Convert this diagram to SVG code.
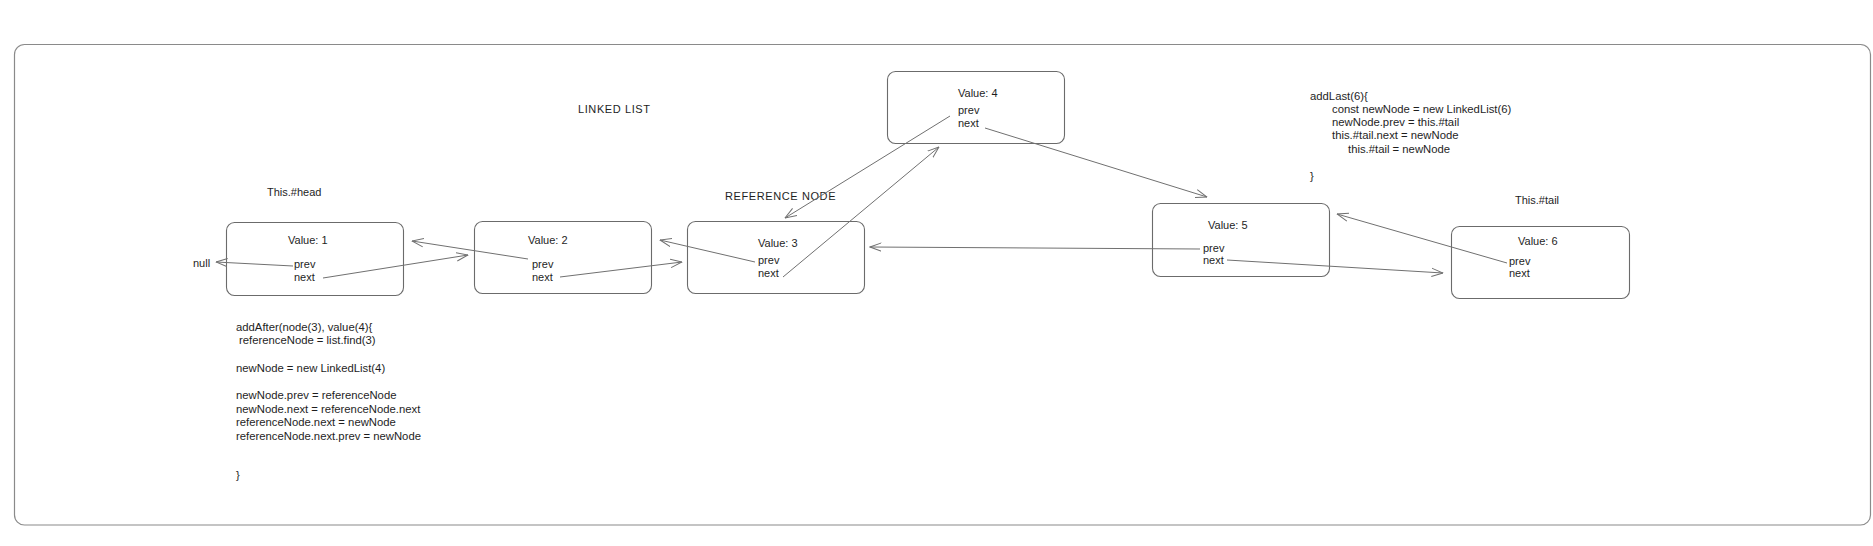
<svg xmlns="http://www.w3.org/2000/svg" width="1873" height="546" viewBox="0 0 1873 546">
<style>
.box{fill:none;stroke:#6b6b6b;stroke-width:1.1}
.frame{fill:none;stroke:#8a8a8a;stroke-width:1.2}
.t{font-family:"Liberation Sans",Arial,sans-serif;font-size:11px;fill:#1e1e1e}
.k{font-size:11.3px}
.u{letter-spacing:0.6px}
.c{fill:none;stroke:#707070;stroke-width:1;marker-end:url(#ah)}
</style>
<defs>
<marker id="ah" viewBox="0 0 12 10" refX="11.5" refY="5" markerWidth="12" markerHeight="10" orient="auto" markerUnits="userSpaceOnUse">
<path d="M0,0.8 L11.5,5 L0,9.2" fill="none" stroke="#707070" stroke-width="1"/>
</marker>
</defs>
<rect width="1873" height="546" fill="#ffffff"/>
<rect class="frame" x="14.5" y="44.5" width="1856" height="480.5" rx="10"/>

<g id="labels">
<text class="t u" x="578" y="113">LINKED LIST</text>
<text class="t" x="267" y="196">This.#head</text>
<text class="t u" x="725" y="200">REFERENCE NODE</text>
<text class="t" x="1515" y="204">This.#tail</text>
<text class="t" x="193" y="267">null</text>
</g>

<g id="code-addAfter">
<text class="t k" x="236" y="331">addAfter(node(3), value(4){</text>
<text class="t k" x="239" y="344"> referenceNode = list.find(3)</text>
<text class="t k" x="236" y="372">newNode = new LinkedList(4)</text>
<text class="t k" x="236" y="399">newNode.prev = referenceNode</text>
<text class="t k" x="236" y="413">newNode.next = referenceNode.next</text>
<text class="t k" x="236" y="426">referenceNode.next = newNode</text>
<text class="t k" x="236" y="440">referenceNode.next.prev = newNode</text>
<text class="t k" x="236" y="479">}</text>
</g>

<g id="code-addLast">
<text class="t k" x="1310" y="100">addLast(6){</text>
<text class="t k" x="1332" y="113">const newNode = new LinkedList(6)</text>
<text class="t k" x="1332" y="126">newNode.prev = this.#tail</text>
<text class="t k" x="1332" y="139">this.#tail.next = newNode</text>
<text class="t k" x="1348" y="153">this.#tail = newNode</text>
<text class="t k" x="1310" y="180">}</text>
</g>

<g id="node1">
<rect class="box" x="226.5" y="222.5" width="177" height="73" rx="8"/>
<text class="t" x="288" y="244">Value: 1</text>
<text class="t" x="294" y="268">prev</text>
<text class="t" x="294" y="281">next</text>
</g>
<g id="node2">
<rect class="box" x="474.5" y="221.5" width="177" height="72" rx="8"/>
<text class="t" x="528" y="244">Value: 2</text>
<text class="t" x="532" y="268">prev</text>
<text class="t" x="532" y="281">next</text>
</g>
<g id="node3">
<rect class="box" x="687.5" y="221.5" width="177" height="72" rx="8"/>
<text class="t" x="758" y="247">Value: 3</text>
<text class="t" x="758" y="264">prev</text>
<text class="t" x="758" y="277">next</text>
</g>
<g id="node4">
<rect class="box" x="887.5" y="71.5" width="177" height="72" rx="8"/>
<text class="t" x="958" y="97">Value: 4</text>
<text class="t" x="958" y="114">prev</text>
<text class="t" x="958" y="127">next</text>
</g>
<g id="node5">
<rect class="box" x="1152.5" y="203.5" width="177" height="73" rx="8"/>
<text class="t" x="1208" y="229">Value: 5</text>
<text class="t" x="1203" y="252">prev</text>
<text class="t" x="1203" y="264">next</text>
</g>
<g id="node6">
<rect class="box" x="1451.5" y="226.5" width="178" height="72" rx="8"/>
<text class="t" x="1518" y="245">Value: 6</text>
<text class="t" x="1509" y="265">prev</text>
<text class="t" x="1509" y="277">next</text>
</g>

<g id="connectors">
<path class="c" d="M293,266 L216,262"/>
<path class="c" d="M323,278 L468,255"/>
<path class="c" d="M528,259 L412,241"/>
<path class="c" d="M560,277 L682,262"/>
<path class="c" d="M755,262 L660,240"/>
<path class="c" d="M783,277 L939,147"/>
<path class="c" d="M950,116 L785,218"/>
<path class="c" d="M985,128 L1207,197"/>
<path class="c" d="M1200,249 L870,247"/>
<path class="c" d="M1227,260 L1443,273"/>
<path class="c" d="M1507,263 L1337,214"/>
</g>
</svg>
